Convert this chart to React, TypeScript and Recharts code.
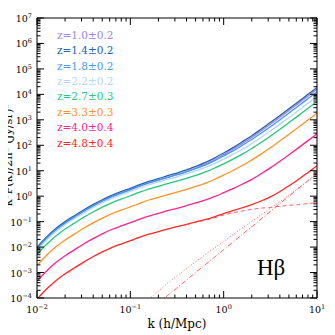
import React from 'react';
import { LineChart, Line, XAxis, YAxis } from 'recharts';

// k (h/Mpc) sample points
const kValues = [0.01, 0.0126, 0.0158, 0.02, 0.0251, 0.0316, 0.0398, 0.0501, 0.0631, 0.0794, 0.1, 0.126, 0.158, 0.2, 0.251, 0.316, 0.398, 0.501, 0.631, 0.794, 1, 1.26, 1.58, 2.0, 2.51, 3.16, 3.98, 5.01, 6.31, 7.94, 10];

// k^3 P(k) / 2pi^2  (Jy/sr)^2
const pZ10 = [8.71e-3, 2.14e-2, 4.57e-2, 8.71e-2, 0.148, 0.251, 0.407, 0.631, 0.933, 1.31, 1.78, 2.47, 3.31, 4.26, 5.53, 7.02, 9.31, 12.7, 17.9, 26.9, 42.8, 69.5, 116, 202, 363, 664, 1240, 2320, 4390, 8330, 15800];
const pZ14 = [1.0e-2, 2.45e-2, 5.25e-2, 0.1, 0.17, 0.288, 0.468, 0.724, 1.07, 1.5, 2.04, 2.84, 3.8, 4.89, 6.37, 8.09, 10.7, 14.7, 20.7, 31.3, 49.8, 81.1, 136, 237, 425, 779, 1450, 2730, 5160, 9790, 18600];
const pZ18 = [8.91e-3, 2.19e-2, 4.68e-2, 8.91e-2, 0.151, 0.257, 0.417, 0.646, 0.955, 1.33, 1.81, 2.52, 3.35, 4.29, 5.54, 6.96, 9.09, 12.2, 16.7, 24.5, 38.1, 60.2, 98.4, 168, 296, 535, 990, 1850, 3500, 6630, 12600];
const pZ22 = [7.59e-3, 1.86e-2, 3.98e-2, 7.59e-2, 0.129, 0.219, 0.355, 0.55, 0.813, 1.13, 1.53, 2.13, 2.83, 3.61, 4.64, 5.77, 7.45, 9.84, 13.2, 18.9, 28.6, 44.1, 70.0, 116, 202, 361, 662, 1230, 2320, 4390, 8330];
const pZ27 = [5.13e-3, 1.26e-2, 2.69e-2, 5.13e-2, 8.71e-2, 0.148, 0.24, 0.372, 0.55, 0.759, 1.04, 1.44, 1.91, 2.43, 3.12, 3.88, 4.99, 6.56, 8.73, 12.5, 18.7, 28.6, 45.1, 74.5, 128, 228, 418, 778, 1460, 2770, 5240];
const pZ33 = [1.91e-3, 4.68e-3, 1.0e-2, 1.91e-2, 3.24e-2, 5.5e-2, 8.91e-2, 0.138, 0.204, 0.282, 0.38, 0.525, 0.708, 0.902, 1.16, 1.43, 1.84, 2.41, 3.19, 4.52, 6.75, 10.2, 16.0, 26.3, 45.0, 79.7, 146, 271, 508, 959, 1820];
const pZ40 = [4.57e-4, 1.12e-3, 2.4e-3, 4.57e-3, 7.76e-3, 1.32e-2, 2.14e-2, 3.31e-2, 4.9e-2, 6.76e-2, 9.12e-2, 0.126, 0.166, 0.209, 0.272, 0.334, 0.423, 0.543, 0.697, 0.956, 1.37, 1.99, 2.95, 4.6, 7.56, 12.9, 23.2, 42.5, 79.1, 149, 281];
const pZ48 = [8.9e-5, 2.19e-4, 4.68e-4, 8.91e-4, 1.51e-3, 2.57e-3, 4.17e-3, 6.46e-3, 9.55e-3, 1.32e-2, 1.78e-2, 2.45e-2, 3.24e-2, 4.07e-2, 5.13e-2, 6.31e-2, 7.76e-2, 9.77e-2, 0.12, 0.155, 0.207, 0.269, 0.351, 0.468, 0.646, 0.944, 1.5, 2.56, 4.55, 8.38, 15.7];

// z=4.8 components
const p48TwoHalo = [null, null, null, null, null, null, null, null, null, null, null, null, null, null, null, null, 7.59e-2, 9.33e-2, 0.112, 0.141, 0.182, 0.224, 0.263, 0.302, 0.339, 0.363, 0.398, 0.437, 0.468, 0.513, 0.55];
const p48OneHalo = [null, null, null, null, null, null, null, null, null, null, null, 4.47e-5, 8.91e-5, 1.86e-4, 3.8e-4, 7.41e-4, 1.41e-3, 2.69e-3, 5.01e-3, 9.12e-3, 1.66e-2, 3.09e-2, 5.62e-2, 0.102, 0.182, 0.331, 0.603, 1.12, 2.09, 3.89, 7.24];
const p48Shot = [null, null, null, null, null, null, null, null, null, null, null, null, null, 6.31e-5, 1.26e-4, 2.51e-4, 5.01e-4, 1.0e-3, 2.0e-3, 3.98e-3, 7.94e-3, 1.58e-2, 3.16e-2, 6.31e-2, 0.126, 0.251, 0.501, 1.0, 2.0, 3.98, 7.94];

const seriesLabels = ['z=1.0\u00b10.2', 'z=1.4\u00b10.2', 'z=1.8\u00b10.2', 'z=2.2\u00b10.2', 'z=2.7\u00b10.3', 'z=3.3\u00b10.3', 'z=4.0\u00b10.4', 'z=4.8\u00b10.4'];
const seriesValues = [pZ10, pZ14, pZ18, pZ22, pZ27, pZ33, pZ40, pZ48];
const seriesColors = ['#9a84ec', '#2360ad', '#4499ee', '#b4d6fa', '#25c87a', '#ff9224', '#ff2290', '#ff2626'];

const xDecades = [0.01, 0.1, 1, 10];
const yDecades = [1e-4, 1e-3, 1e-2, 1e-1, 1, 1e1, 1e2, 1e3, 1e4, 1e5, 1e6, 1e7];

const xLabel = 'k (h/Mpc)';
const yLabel = 'k\u00b3P(k)/2\u03c0\u00b2 (Jy/sr)\u00b2';
const panelLabel = 'H\u03b2';

const withMinor = (dec: number[]) => {
  const out: number[] = [];
  dec.forEach((d, i) => {
    if (i === dec.length - 1) { out.push(d); return; }
    for (let m = 1; m <= 9; m++) out.push(m * d);
  });
  return out;
};
const xTicks = withMinor(xDecades);
const yTicks = withMinor(yDecades);

const data = kValues.map((k, i) => {
  const row: any = { k };
  seriesValues.forEach((s, j) => { row['s' + j] = s[i]; });
  row.halo2 = p48TwoHalo[i];
  row.halo1 = p48OneHalo[i];
  row.shot = p48Shot[i];
  return row;
});

const FONT = '"DejaVu Serif", serif';
const isMajor = (v: number) => { const l = Math.log10(v); return Math.abs(l - Math.round(l)) < 1e-6; };
const expText = (v: number) => { const e = Math.round(Math.log10(v)); return e < 0 ? '\u2212' + Math.abs(e) : String(e); };
const MAJ = 7;
const MIN = 3.5;

// plot box (chart svg coords = page coords): left 37, top 18, width 280, height 280
const PL = 37, PT = 18, PW = 280, PH = 280;

const BottomTick = (props: any) => {
  const { x, payload } = props;
  const y = PT + PH;
  const major = isMajor(payload.value);
  return (
    <g>
      <line x1={x} y1={y} x2={x} y2={y - (major ? MAJ : MIN)} stroke="#000" strokeWidth={1} />
      {major ? (
        <text x={x} y={y + 15} textAnchor="middle" fontFamily={FONT} fontSize={9.5} fill="#000">
          <tspan>10</tspan>
          <tspan dy={-4} fontSize={6.5}>{expText(payload.value)}</tspan>
        </text>
      ) : null}
    </g>
  );
};
const TopTick = (props: any) => {
  const { x, payload } = props;
  const y = PT;
  const major = isMajor(payload.value);
  return <line x1={x} y1={y} x2={x} y2={y + (major ? MAJ : MIN)} stroke="#000" strokeWidth={1} />;
};
const LeftTick = (props: any) => {
  const { y, payload } = props;
  const x = PL;
  const major = isMajor(payload.value);
  return (
    <g>
      <line x1={x} y1={y} x2={x + (major ? MAJ : MIN)} y2={y} stroke="#000" strokeWidth={1} />
      {major ? (
        <text x={x - 5} y={y + 4} textAnchor="end" fontFamily={FONT} fontSize={9.5} fill="#000">
          <tspan>10</tspan>
          <tspan dy={-4} fontSize={6.5}>{expText(payload.value)}</tspan>
        </text>
      ) : null}
    </g>
  );
};
const RightTick = (props: any) => {
  const { y, payload } = props;
  const x = PL + PW;
  const major = isMajor(payload.value);
  return <line x1={x} y1={y} x2={x - (major ? MAJ : MIN)} y2={y} stroke="#000" strokeWidth={1} />;
};

export default function App() {
  return (
    <div style={{ position: 'relative', width: 335, height: 335, margin: '-8px 0 0 -8px' }}>
      <LineChart width={335} height={335} data={data} margin={{ top: 13, right: 8, bottom: 7, left: 17 }}>
        <XAxis xAxisId={0} dataKey="k" type="number" scale="log" domain={[0.01, 10]} allowDataOverflow
          ticks={xTicks} interval={0} tick={<BottomTick />} tickLine={false}
          height={30} axisLine={{ stroke: '#000', strokeWidth: 1 }} />
        <XAxis xAxisId="t" orientation="top" dataKey="k" type="number" scale="log" domain={[0.01, 10]} allowDataOverflow
          ticks={xTicks} interval={0} tick={<TopTick />} tickLine={false}
          height={5} axisLine={{ stroke: '#000', strokeWidth: 1 }} />
        <YAxis yAxisId={0} type="number" scale="log" domain={[1e-4, 1e7]} allowDataOverflow
          ticks={yTicks} interval={0} tick={<LeftTick />} tickLine={false}
          width={20} axisLine={{ stroke: '#000', strokeWidth: 1 }} />
        <YAxis yAxisId="r" orientation="right" type="number" scale="log" domain={[1e-4, 1e7]} allowDataOverflow
          ticks={yTicks} interval={0} tick={<RightTick />} tickLine={false}
          width={10} axisLine={{ stroke: '#000', strokeWidth: 1 }} />
        {seriesValues.map((_, j) => (
          <Line key={'s' + j} dataKey={'s' + j} xAxisId={0} yAxisId={0} type="monotone" stroke={seriesColors[j]}
            strokeWidth={1.3} dot={false} activeDot={false} isAnimationActive={false} connectNulls={false} />
        ))}
        <Line dataKey="halo2" xAxisId={0} yAxisId={0} type="monotone" stroke="#ff5050" strokeWidth={0.9}
          strokeDasharray="4 3" dot={false} activeDot={false} isAnimationActive={false} />
        <Line dataKey="halo1" xAxisId={0} yAxisId={0} type="monotone" stroke="#ff5050" strokeWidth={0.9}
          strokeDasharray="1 2" dot={false} activeDot={false} isAnimationActive={false} />
        <Line dataKey="shot" xAxisId={0} yAxisId={0} type="monotone" stroke="#ff5050" strokeWidth={0.9}
          strokeDasharray="5 2 1 2" dot={false} activeDot={false} isAnimationActive={false} />
      </LineChart>
      <svg width={335} height={335} style={{ position: 'absolute', left: 0, top: 0, pointerEvents: 'none' }}>
        {seriesLabels.map((lab, j) => (
          <text key={lab} x={57} y={38.8 + 15.4 * j} fontFamily={FONT} fontSize={10.5} fill={seriesColors[j]}>{lab}</text>
        ))}
        <text x={257} y={275} fontFamily='"Liberation Serif", serif' fontSize={23} fill="#000">{panelLabel}</text>
        <text x={177} y={328} textAnchor="middle" fontFamily={FONT} fontSize={12} fill="#000">{xLabel}</text>
        <text x={12} y={155} textAnchor="middle" transform="rotate(-90 12 155)" fontFamily={FONT} fontSize={11.5} fill="#000">{yLabel}</text>
      </svg>
    </div>
  );
}
